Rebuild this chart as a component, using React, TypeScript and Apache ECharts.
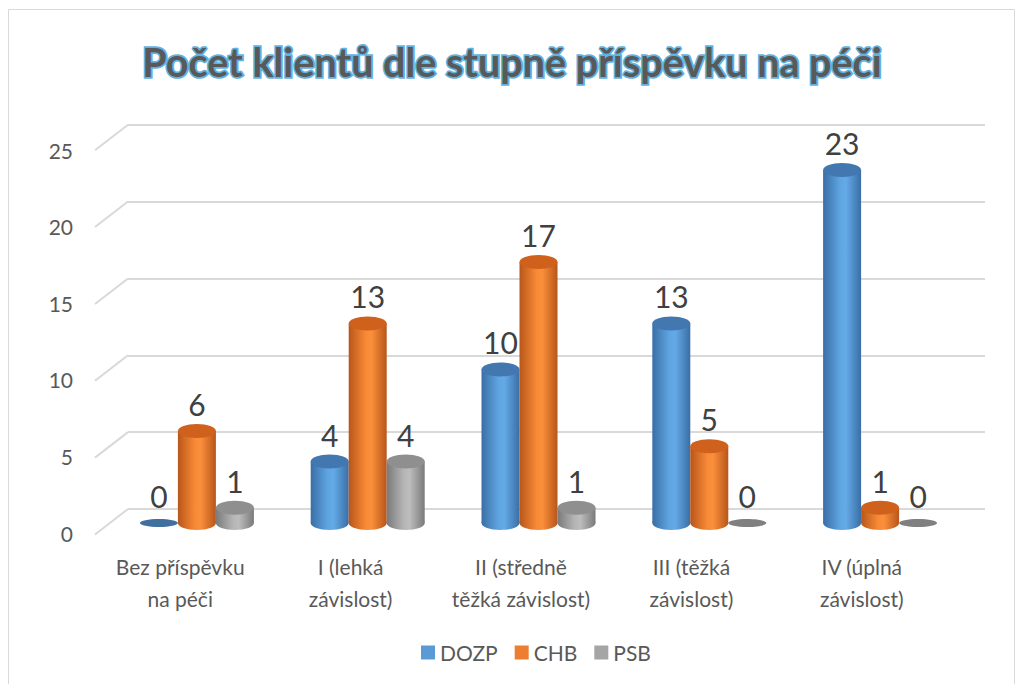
import React, { useEffect, useRef } from "react";
import * as echarts from "echarts";

const categories = [
  "Bez příspěvku\nna péči",
  "I (lehká\nzávislost)",
  "II (středně\ntěžká závislost)",
  "III (těžká\nzávislost)",
  "IV (úplná\nzávislost)",
];
const dozp = [0, 4, 10, 13, 23];
const chb = [6, 13, 17, 5, 1];
const psb = [1, 4, 1, 0, 0];
const yTicks = [0, 5, 10, 15, 20, 25];

const FONT = "Lato, 'Noto Sans', sans-serif";

type Pal = { legend: string; edge: string; mid: string; light: string; cap: string; flat: string };
const palettes: Pal[] = [
  { legend: "#5b9bd5", edge: "#3a6ea6", mid: "#5fa5e2", light: "#64aae7", cap: "#4377b0", flat: "#41709f" },
  { legend: "#ed7d31", edge: "#b8561a", mid: "#f88a36", light: "#fa8f3b", cap: "#cf611d", flat: "#c5601f" },
  { legend: "#a5a5a5", edge: "#7a7a7a", mid: "#b5b5b5", light: "#bdbdbd", cap: "#8f8f8f", flat: "#808080" },
];

function cylinder(idx: number, pal: Pal) {
  return (params: any, api: any) => {
    const cat = api.value(0);
    const v = api.value(1);
    const base = api.coord([cat, 0]);
    const top = api.coord([cat, v]);
    const w = 38;
    const cx = base[0] + (idx - 1) * w;
    const rx = w / 2;
    const ry = 7;
    const grad = new echarts.graphic.LinearGradient(0, 0, 1, 0, [
      { offset: 0, color: pal.edge },
      { offset: 0.45, color: pal.mid },
      { offset: 0.6, color: pal.light },
      { offset: 1, color: pal.edge },
    ]);
    const children: any[] = [];
    if (v > 0) {
      children.push({
        type: "ellipse",
        shape: { cx, cy: base[1], rx, ry },
        style: { fill: grad },
      });
      children.push({
        type: "rect",
        shape: { x: cx - rx, y: top[1], width: w, height: base[1] - top[1] },
        style: { fill: grad },
      });
      children.push({
        type: "ellipse",
        shape: { cx, cy: top[1], rx, ry },
        style: { fill: pal.cap },
      });
    } else {
      children.push({
        type: "ellipse",
        shape: { cx, cy: base[1], rx, ry: 4 },
        style: { fill: pal.flat },
      });
    }
    children.push({
      type: "text",
      style: {
        text: String(v),
        x: cx,
        y: top[1] - 12,
        align: "center",
        verticalAlign: "bottom",
        fontSize: 30,
        fontFamily: FONT,
        fill: "#404040",
      },
    });
    return { type: "group", children };
  };
}

export default function App() {
  const ref = useRef<HTMLDivElement>(null);
  useEffect(() => {
    const chart = echarts.init(ref.current!, undefined, { renderer: "svg" });
    const seriesData = [dozp, chb, psb];
    const names = ["DOZP", "CHB", "PSB"];
    const option: any = {
      animation: false,
      backgroundColor: "#ffffff",
      title: {
        text: "Počet klientů dle stupně příspěvku na péči",
        left: "center",
        top: 36,
        textStyle: {
          fontFamily: FONT,
          fontSize: 39.5,
          fontWeight: "bold",
          color: "#595959",
          textBorderColor: "#5fb2e2",
          textBorderWidth: 3.5,
        },
      },
      graphic: [
        {
          type: "rect",
          shape: { x: 8.5, y: 9.5, width: 1006, height: 700 },
          style: { fill: "none", stroke: "#d9d9d9", lineWidth: 1 },
          silent: true,
        },
      ],
      legend: {
        data: names,
        bottom: 16,
        left: 416,
        icon: "rect",
        itemWidth: 14,
        itemHeight: 14,
        itemGap: 17,
        textStyle: { fontFamily: FONT, fontSize: 21, color: "#595959" },
      },
      grid: [
        { left: 128, right: 39, top: 124.7, bottom: 175 },
        { left: 95, right: 77, top: 150, bottom: 151 },
        { left: 111.5, right: 58.5, top: 139.2, bottom: 161 },
      ],
      xAxis: [
        { gridIndex: 0, type: "category", data: categories, show: false },
        {
          gridIndex: 1,
          type: "category",
          data: categories,
          axisLine: { show: false },
          axisTick: { show: false },
          axisLabel: {
            interval: 0,
            hideOverlap: false,
            fontFamily: FONT,
            fontSize: 21,
            color: "#595959",
            lineHeight: 32,
            margin: 17,
          },
        },
        { gridIndex: 2, type: "category", data: categories, show: false },
      ],
      yAxis: [
        {
          gridIndex: 0,
          type: "value",
          min: 0,
          max: 25,
          interval: 5,
          axisLabel: { show: false },
          axisLine: { show: false },
          axisTick: { show: false },
          splitLine: { lineStyle: { color: "#d9d9d9", width: 2 } },
        },
        {
          gridIndex: 1,
          type: "value",
          min: 0,
          max: 25,
          interval: 5,
          axisLine: { show: false },
          axisTick: { show: false },
          splitLine: { show: false },
          axisLabel: { fontFamily: FONT, fontSize: 21, color: "#595959", margin: 22 },
        },
        { gridIndex: 2, type: "value", min: 0, max: 25, interval: 5, show: false },
      ],
      series: [
        {
          type: "custom",
          name: "grid-depth",
          xAxisIndex: 0,
          yAxisIndex: 0,
          silent: true,
          data: yTicks.map((t) => [0, t]),
          renderItem: (params: any, api: any) => {
            const y = api.coord([0, api.value(1)])[1];
            const x = params.coordSys.x;
            return {
              type: "line",
              shape: { x1: x, y1: y, x2: x - 33, y2: y + 25.5 },
              style: { stroke: "#d9d9d9", lineWidth: 2 },
            };
          },
        },
        ...seriesData.map((d, i) => ({
          type: "custom",
          name: names[i],
          xAxisIndex: 2,
          yAxisIndex: 2,
          itemStyle: { color: palettes[i].legend },
          data: d.map((v, j) => [j, v]),
          renderItem: cylinder(i, palettes[i]),
        })),
      ],
    };
    chart.setOption(option);
    return () => chart.dispose();
  }, []);
  return (
    <div
      ref={ref}
      style={{ position: "fixed", left: 0, top: 0, width: 1024, height: 684 }}
    />
  );
}
